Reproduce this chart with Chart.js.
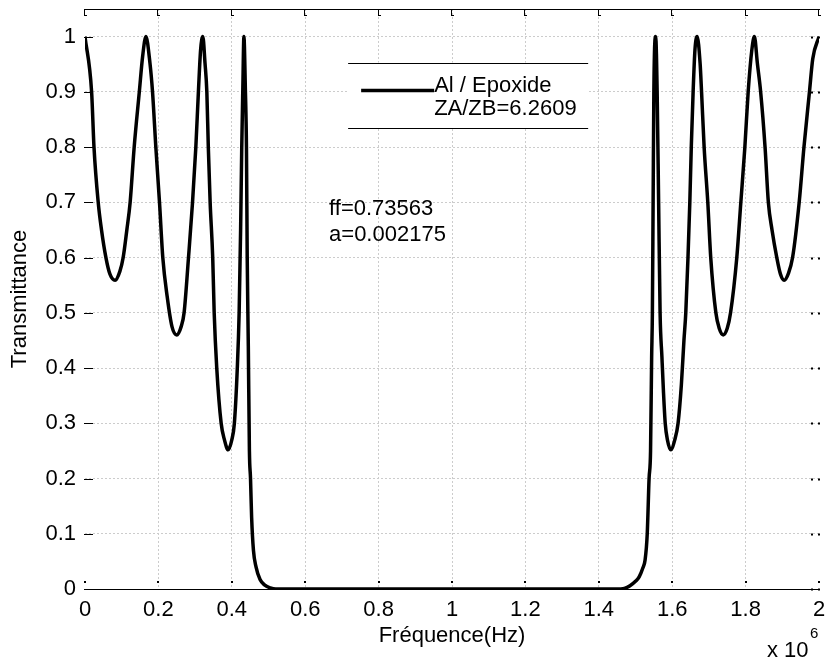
<!DOCTYPE html>
<html>
<head>
<meta charset="utf-8">
<script src="https://cdn.jsdelivr.net/npm/chart.js@4.4.1/dist/chart.umd.min.js"></script>
<style>
  html, body { margin: 0; padding: 0; background: #fff; }
</style>
</head>
<body>
<canvas id="transChart" width="826" height="662"></canvas>
<script>
// frequency (x 10^6 Hz) and transmittance
const freq = [
  0, 0.018, 0.0245, 0.036, 0.045, 0.057, 0.068, 0.082, 0.095, 0.104, 0.114, 0.123, 0.134, 0.148, 0.157, 0.166,
  0.177, 0.184, 0.193, 0.203, 0.212, 0.224, 0.237, 0.250, 0.262, 0.270, 0.282, 0.293, 0.302, 0.309, 0.315, 0.321,
  0.327, 0.332, 0.336, 0.341, 0.348, 0.352, 0.359, 0.371, 0.380, 0.390, 0.400, 0.407, 0.415, 0.420, 0.424, 0.427, 0.430, 0.433,
  0.437, 0.440, 0.442, 0.445, 0.448, 0.451, 0.454, 0.459, 0.466, 0.477, 0.490, 0.505, 0.520,
  0.6, 0.8, 1.0, 1.2, 1.4, 1.46,
  1.47, 1.485, 1.500, 1.510, 1.520, 1.526, 1.532, 1.537, 1.541, 1.544, 1.546, 1.548, 1.550, 1.555,
  1.559, 1.563, 1.567, 1.572, 1.576, 1.581, 1.587, 1.596, 1.607, 1.616, 1.625, 1.632, 1.637, 1.643, 1.648, 1.652, 1.657, 1.662, 1.668,
  1.676, 1.680, 1.687, 1.697, 1.705, 1.719, 1.728, 1.739, 1.750, 1.759, 1.776, 1.787, 1.798, 1.807, 1.817, 1.824,
  1.832, 1.841, 1.853, 1.862, 1.872, 1.885, 1.895, 1.905, 1.917, 1.928, 1.946, 1.959, 1.974, 1.983, 2.0
];
const trans = [
  1.0, 0.9, 0.8, 0.7, 0.65, 0.6, 0.57, 0.559, 0.575, 0.6, 0.65, 0.7, 0.8, 0.9, 0.964, 1.0,
  0.952, 0.9, 0.8, 0.7, 0.6, 0.529, 0.475, 0.46, 0.475, 0.5, 0.6, 0.7, 0.8, 0.9, 0.976, 1.0,
  0.952, 0.9, 0.8, 0.7, 0.6, 0.5, 0.4, 0.3, 0.27, 0.252, 0.27, 0.3, 0.4, 0.5, 0.65, 0.795, 0.904, 1.0,
  0.904, 0.795, 0.6, 0.44, 0.25, 0.2, 0.13, 0.07, 0.04, 0.017, 0.007, 0.002, 0,
  0, 0, 0, 0, 0, 0,
  0.001, 0.006, 0.014, 0.022, 0.038, 0.052, 0.1, 0.2, 0.25, 0.42, 0.5, 0.7, 0.9, 1.0,
  0.9, 0.7, 0.5, 0.42, 0.36, 0.3, 0.27, 0.252, 0.27, 0.3, 0.37, 0.45, 0.5, 0.6, 0.7, 0.8, 0.9, 0.976, 1.0,
  0.952, 0.9, 0.8, 0.7, 0.6, 0.5, 0.472, 0.46, 0.472, 0.5, 0.6, 0.7, 0.8, 0.9, 0.976, 1.0,
  0.952, 0.9, 0.8, 0.7, 0.65, 0.6, 0.57, 0.559, 0.572, 0.6, 0.7, 0.8, 0.9, 0.96, 1.0
];

const xTicks = [0, 0.2, 0.4, 0.6, 0.8, 1, 1.2, 1.4, 1.6, 1.8, 2];
const xTickLabels = ['0', '0.2', '0.4', '0.6', '0.8', '1', '1.2', '1.4', '1.6', '1.8', '2'];
const yTicks = [0, 0.1, 0.2, 0.3, 0.4, 0.5, 0.6, 0.7, 0.8, 0.9, 1];
const yTickLabels = ['0', '0.1', '0.2', '0.3', '0.4', '0.5', '0.6', '0.7', '0.8', '0.9', '1'];

const legendLines = ['Al / Epoxide', 'ZA/ZB=6.2609'];
const noteLines = ['ff=0.73563', 'a=0.002175'];
const xTitle = 'Fréquence(Hz)';
const yTitle = 'Transmittance';

const FONT = "'Liberation Sans', Arial, sans-serif";

// MATLAB-like box: top/bottom lines, small ticks, legend, texts
const matlabLook = {
  id: 'matlabLook',
  afterDatasetsDraw(chart) {
    const { ctx, chartArea: a, scales: { x, y } } = chart;
    ctx.save();
    ctx.strokeStyle = '#000';
    ctx.fillStyle = '#000';
    ctx.lineWidth = 1;

    // top and bottom lines
    ctx.beginPath();
    ctx.moveTo(a.left - 1, Math.round(a.top) + 0.5);
    ctx.lineTo(a.right + 1, Math.round(a.top) + 0.5);
    ctx.moveTo(a.left - 1, Math.round(a.bottom) + 0.5);
    ctx.lineTo(a.right + 1, Math.round(a.bottom) + 0.5);
    ctx.stroke();

    // y ticks: solid on the left, dotted on the right
    yTicks.forEach(v => {
      const py = Math.round(y.getPixelForValue(v)) + 0.5;
      ctx.beginPath();
      ctx.moveTo(a.left - 1, py);
      ctx.lineTo(a.left + 8, py);
      ctx.stroke();
      ctx.fillRect(a.right - 8, py - 1, 2, 2);
      ctx.fillRect(a.right - 1, py - 1, 2, 2);
    });

    // x ticks: dot above the bottom line, small bracket under the top line
    xTicks.forEach(v => {
      const px = Math.round(x.getPixelForValue(v));
      ctx.fillRect(px - 1, a.bottom - 8, 2, 2);
      ctx.fillRect(px - 1, a.top, 1, 7);
      ctx.fillRect(px - 1, a.top + 6, 3, 1);
    });

    // legend box (white, only top & bottom borders)
    const lx0 = x.getPixelForValue(0.717), lx1 = x.getPixelForValue(1.371);
    const ly0 = y.getPixelForValue(0.953), ly1 = y.getPixelForValue(0.835);
    ctx.fillStyle = '#fff';
    ctx.fillRect(lx0, ly0, lx1 - lx0, ly1 - ly0);
    ctx.fillStyle = '#000';
    ctx.beginPath();
    ctx.moveTo(lx0, Math.round(ly0) + 0.5);
    ctx.lineTo(lx1, Math.round(ly0) + 0.5);
    ctx.moveTo(lx0, Math.round(ly1) + 0.5);
    ctx.lineTo(lx1, Math.round(ly1) + 0.5);
    ctx.stroke();

    ctx.lineWidth = 3.5;
    ctx.beginPath();
    ctx.moveTo(lx0 + 13, ly0 + 28);
    ctx.lineTo(lx0 + 86, ly0 + 28);
    ctx.stroke();

    ctx.font = '22px ' + FONT;
    ctx.textAlign = 'left';
    ctx.textBaseline = 'middle';
    ctx.fillText(legendLines[0], lx0 + 86, ly0 + 23);
    ctx.fillText(legendLines[1], lx0 + 86, ly0 + 46);

    // notes
    const nx = x.getPixelForValue(0.665);
    const ny = y.getPixelForValue(0.688);
    ctx.fillText(noteLines[0], nx, ny);
    ctx.fillText(noteLines[1], nx, ny + 26);

    // axis titles
    ctx.textAlign = 'center';
    ctx.fillText(xTitle, (a.left + a.right) / 2, 636);
    ctx.save();
    ctx.translate(20, (a.top + a.bottom) / 2);
    ctx.rotate(-Math.PI / 2);
    ctx.fillText(yTitle, 0, 0);
    ctx.restore();

    // exponent
    ctx.textAlign = 'left';
    ctx.fillText('x 10', 767, 651);
    ctx.font = '15px ' + FONT;
    ctx.fillText('6', 810, 634);

    ctx.restore();
  }
};

const ctx = document.getElementById('transChart').getContext('2d');
const transChart = new Chart(ctx, {
  type: 'line',
  data: {
    datasets: [{
      label: legendLines[0],
      data: freq.map((f, i) => ({ x: f, y: trans[i] })),
      borderColor: '#000',
      borderWidth: 3.5,
      pointRadius: 0,
      fill: false,
      cubicInterpolationMode: 'monotone'
    }]
  },
  options: {
    responsive: false,
    animation: false,
    devicePixelRatio: 1,
    layout: { padding: { left: 0, right: 7, top: 9, bottom: 0 } },
    plugins: { legend: { display: false }, tooltip: { enabled: false } },
    scales: {
      x: {
        type: 'linear',
        min: 0,
        max: 2,
        afterBuildTicks: s => { s.ticks = xTicks.map(v => ({ value: v })); },
        afterFit: s => { s.height = 73; s.paddingLeft = 0; s.paddingRight = 0; },
        ticks: {
          callback: (v, i) => xTickLabels[i],
          color: '#000',
          font: { family: FONT, size: 22 },
          padding: 8,
          maxRotation: 0,
          autoSkip: false
        },
        grid: {
          drawTicks: false,
          color: c => (c.tick && (c.tick.value === 0 || c.tick.value === 2)) ? 'rgba(0,0,0,0)' : '#cccccc',
          lineWidth: 1
        },
        border: { display: false, dash: [2, 2] }
      },
      y: {
        min: 0,
        max: 1.05,
        afterBuildTicks: s => { s.ticks = yTicks.map(v => ({ value: v })); },
        afterFit: s => { s.width = 85; s.paddingTop = 0; s.paddingBottom = 0; },
        ticks: {
          callback: (v, i) => yTickLabels[i],
          color: '#000',
          font: { family: FONT, size: 22 },
          padding: 9,
          autoSkip: false
        },
        grid: {
          drawTicks: false,
          color: c => (c.tick && c.tick.value === 0) ? 'rgba(0,0,0,0)' : '#cccccc',
          lineWidth: 1
        },
        border: { display: false, dash: [2, 2] }
      }
    }
  },
  plugins: [matlabLook]
});
</script>
</body>
</html>
